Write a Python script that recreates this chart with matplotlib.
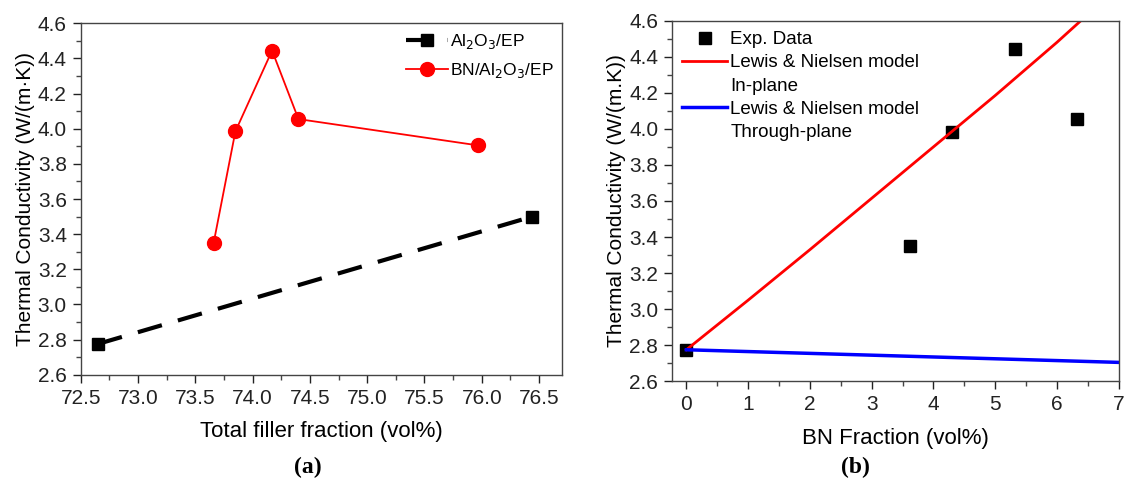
import matplotlib
matplotlib.use("Agg")
import matplotlib.pyplot as plt
from matplotlib.lines import Line2D
from matplotlib.ticker import MultipleLocator

plt.rcParams['font.family'] = ['Liberation Sans', 'DejaVu Sans']

# (a) total filler fraction
al_x = [72.65, 76.44]
al_y = [2.775, 3.50]
bn_x = [73.66, 73.85, 74.17, 74.40, 75.97]
bn_y = [3.35, 3.985, 4.445, 4.055, 3.905]

# (b) BN fraction
exp_x = [0, 3.62, 4.30, 5.32, 6.33]
exp_y = [2.775, 3.35, 3.985, 4.445, 4.055]
inplane_x = [0, 1, 2, 3, 4, 5, 6, 6.5]
inplane_y = [2.775, 3.05, 3.33, 3.615, 3.90, 4.185, 4.48, 4.635]
through_x = [0, 1, 2, 3, 4, 5, 6, 7]
through_y = [2.775, 2.765, 2.755, 2.745, 2.735, 2.725, 2.715, 2.705]

fig = plt.figure(figsize=(11.24, 4.9), dpi=100)
ax1 = fig.add_axes([0.0718, 0.2353, 0.5 - 0.0718, 0.9524 - 0.2353])
ax2 = fig.add_axes([0.598, 0.2218, 0.9953 - 0.598, 0.9578 - 0.2218])

ax1.plot(al_x, al_y, color='black', lw=3, ls=(0, (6, 4)), marker='s', ms=9,
         label=r'Al$_2$O$_3$/EP')
ax1.plot(bn_x, bn_y, color='red', lw=1.3, marker='o', ms=10,
         label=r'BN/Al$_2$O$_3$/EP')
ax1.set_xlim(72.5, 76.7)
ax1.set_xticks([72.5, 73.0, 73.5, 74.0, 74.5, 75.0, 75.5, 76.0, 76.5])
ax1.set_xticklabels(['72.5', '73.0', '73.5', '74.0', '74.5', '75.0', '75.5', '76.0', '76.5'])
ax1.xaxis.set_minor_locator(MultipleLocator(0.25))
ax1.set_xlabel('Total filler fraction (vol%)', fontsize=16, labelpad=10)
ax1.set_ylabel('Thermal Conductivity (W/(m\u00b7K))', fontsize=15, labelpad=2)
ax1.legend(loc='upper right', frameon=False, fontsize=12.5, handlelength=2.4,
           handletextpad=0.1, borderaxespad=0.2, borderpad=0.3, labelspacing=0.6)

ax2.plot(exp_x, exp_y, ls='none', marker='s', color='black', ms=9)
ax2.plot(inplane_x, inplane_y, color='red', lw=2)
ax2.plot(through_x, through_y, color='blue', lw=2.5)
ax2.set_xlim(-0.23, 7)
ax2.set_xticks(range(0, 8))
ax2.xaxis.set_minor_locator(MultipleLocator(0.5))
ax2.set_xlabel('BN Fraction (vol%)', fontsize=16, labelpad=10)
ax2.set_ylabel('Thermal Conductivity (W/(m.K))', fontsize=15, labelpad=2)

# legend rows: second line of each model label gets an empty handle
blank = Line2D([], [], ls='none')
handles = [Line2D([], [], ls='none', marker='s', color='black', ms=9),
           Line2D([], [], color='red', lw=2), blank,
           Line2D([], [], color='blue', lw=2.5), blank]
labels = ['Exp. Data', 'Lewis & Nielsen model', 'In-plane',
          'Lewis & Nielsen model', 'Through-plane']
ax2.legend(handles, labels, loc='upper left', frameon=False, fontsize=13.5,
           handlelength=2.4, handletextpad=0.15, borderaxespad=0.2, borderpad=0.35,
           labelspacing=0.33)

for ax in (ax1, ax2):
    ax.set_ylim(2.6, 4.6)
    ax.set_yticks([2.6, 2.8, 3.0, 3.2, 3.4, 3.6, 3.8, 4.0, 4.2, 4.4, 4.6])
    ax.yaxis.set_minor_locator(MultipleLocator(0.1))
    ax.tick_params(which='major', direction='out', length=6, width=1, labelsize=15,
                   colors='#222222', pad=4)
    ax.tick_params(which='minor', direction='out', length=3.5, width=1, colors='#444444')
    ax.tick_params(top=False, right=False, which='both')
    for s in ax.spines.values():
        s.set_color('#444444')
        s.set_linewidth(1)

fig.text(0.274, 0.045, '(a)', fontsize=17, fontweight='bold', family='Liberation Serif',
         ha='center', va='center')
fig.text(0.761, 0.045, '(b)', fontsize=17, fontweight='bold', family='Liberation Serif',
         ha='center', va='center')

fig.savefig('out.png', dpi=100)
